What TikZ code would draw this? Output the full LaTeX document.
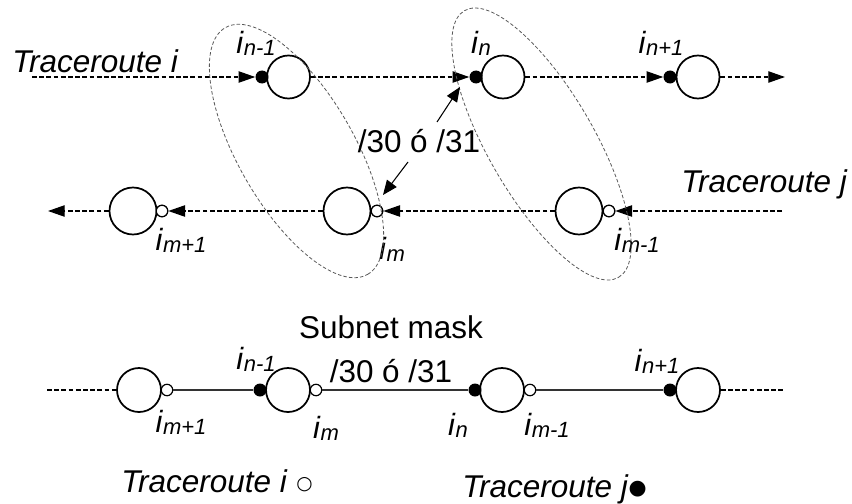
\documentclass[tikz,border=0pt]{standalone}
\usepackage{fontspec}
\setmainfont{Liberation Sans}
\newfontfamily\symfont{DejaVu Sans}
\usetikzlibrary{arrows.meta}
% interface label: italic i with an italic subscript
\newcommand{\iface}[1]{\fontsize{23}{23}\selectfont\textit{i}\raisebox{-1.5pt}{\fontsize{16.5}{16.5}\selectfont\textit{#1}}}
\begin{document}
\begin{tikzpicture}[x=0.75pt,y=-0.75pt,
  router/.style={draw, circle, line width=1.3pt, minimum size=#1, inner sep=0pt},
  fulldot/.style={circle, fill=black, minimum size=9.75pt, inner sep=0pt},
  opendot/.style={circle, draw, fill=white, line width=0.9pt, minimum size=8.6pt, inner sep=0pt},
  flow/.style={line width=0.9pt, dash pattern=on 3.6pt off 1.8pt, -{Triangle[length=12.5pt,width=8.5pt]}},
  trail/.style={line width=0.9pt, dash pattern=on 3.6pt off 1.8pt},
  link/.style={line width=0.8pt, black!80},
  hull/.style={line width=0.6pt, black!65, dash pattern=on 2.6pt off 1.6pt},
  pointer/.style={line width=0.8pt, -{Triangle[length=11pt,width=9pt]}},
  lbl/.style={inner sep=0pt},
  txt/.style={inner sep=0pt, font=\fontsize{23.6}{26}\selectfont},
]
\useasboundingbox (0,0) rectangle (852,503);

% ---------- traceroute i (top row) ----------
\coordinate (ti0) at (32,77);
\node[fulldot] (a1) at (262,77) {};
\node[router=32.25pt] (r1) at (288.5,77) {};
\node[fulldot] (a2) at (476,77) {};
\node[router=32.25pt] (r2) at (503,77) {};
\node[fulldot] (a3) at (670,77) {};
\node[router=32.25pt] (r3) at (698,77) {};
\coordinate (ti1) at (785,77);
\draw[flow] (ti0) -- (a1);
\draw[flow] (r1) -- (a2);
\draw[flow] (r2) -- (a3);
\draw[flow] (r3) -- (ti1);
\node[lbl] (la1) at (256,43) {\iface{n-1}};
\node[lbl] (la2) at (481,43) {\iface{n}};
\node[lbl] (la3) at (661,43) {\iface{n+1}};
\node[txt, anchor=base west] (tri) at (12,72.5) {\textit{Traceroute i}};

% ---------- traceroute j (middle row) ----------
\coordinate (tj0) at (782,211);
\node[opendot] (b1) at (609,211) {};
\node[router=35.25pt] (s1) at (579,211) {};
\node[opendot] (b2) at (377,211) {};
\node[router=35.25pt] (s2) at (347,211) {};
\node[opendot] (b3) at (162,211) {};
\node[router=35.25pt] (s3) at (133,211) {};
\coordinate (tj1) at (48,211);
\draw[flow] (tj0) -- (b1);
\draw[flow] (s1) -- (b2);
\draw[flow] (s2) -- (b3);
\draw[flow] (s3) -- (tj1);
\node[opendot] at (609,211) {};
\node[opendot] at (377,211) {};
\node[opendot] at (162,211) {};
\node[lbl] (lb1) at (637,240) {\iface{m-1}};
\node[lbl] (lb2) at (392,249) {\iface{m}};
\node[lbl] (lb3) at (181,240) {\iface{m+1}};
\node[txt, anchor=base west] (trj) at (681,192.5) {\textit{Traceroute j}};

% ---------- pairs sharing a /30 or /31 ----------
\draw[hull, rotate around={-60:(296.5,151)}] (296.5,151) ellipse [x radius=106.8pt, y radius=43.5pt];
\draw[hull, rotate around={-60:(541.5,144)}] (541.5,144) ellipse [x radius=115.5pt, y radius=39.8pt];
\node[txt, anchor=base] (mask) at (419,152) {/30 ó /31};
\coordinate (p1s) at (437,122);
\coordinate (p1e) at (460,87);
\coordinate (p2s) at (408,162);
\coordinate (p2e) at (383,195);
\draw[pointer] (p1s) -- (p1e);
\draw[pointer] (p2s) -- (p2e);

% ---------- merged path (bottom row) ----------
\coordinate (m0) at (47,390);
\node[router=33pt] (c1) at (139,390) {};
\node[opendot] (c1o) at (167,390) {};
\node[fulldot] (c2f) at (260,390) {};
\node[router=33pt] (c2) at (288,390) {};
\node[opendot] (c2o) at (316,390) {};
\node[fulldot] (c3f) at (475,390) {};
\node[router=33pt] (c3) at (502,390) {};
\node[opendot] (c3o) at (530,390) {};
\node[fulldot] (c4f) at (670,390) {};
\node[router=33pt] (c4) at (698,390) {};
\coordinate (m1) at (785,390);
\draw[trail] (m0) -- (c1);
\draw[link] (c1o) -- (c2f);
\draw[link] (c2o) -- (c3f);
\draw[link] (c3o) -- (c4f);
\draw[trail] (c4) -- (m1);
\node[lbl] (lc1) at (256,359) {\iface{n-1}};
\node[lbl] (lc2) at (181,422) {\iface{m+1}};
\node[lbl] (lc3) at (326,428) {\iface{m}};
\node[lbl] (lc4) at (458,425) {\iface{n}};
\node[lbl] (lc5) at (547,425) {\iface{m-1}};
\node[lbl] (lc6) at (657,361) {\iface{n+1}};
\node[txt, anchor=base] (sub1) at (391,338) {Subnet mask};
\node[txt, anchor=base] (sub2) at (391,382) {/30 ó /31};

% ---------- legend ----------
\node[txt, anchor=base west] (legi) at (121,492) {\textit{Traceroute i} \raisebox{2pt}{\symfont\fontsize{14}{14}\selectfont ○}};
\node[txt, anchor=base west] (legj) at (462,497) {\textit{Traceroute j}\raisebox{2pt}{\symfont\fontsize{15.5}{15.5}\selectfont ●}};
\end{tikzpicture}
\end{document}
